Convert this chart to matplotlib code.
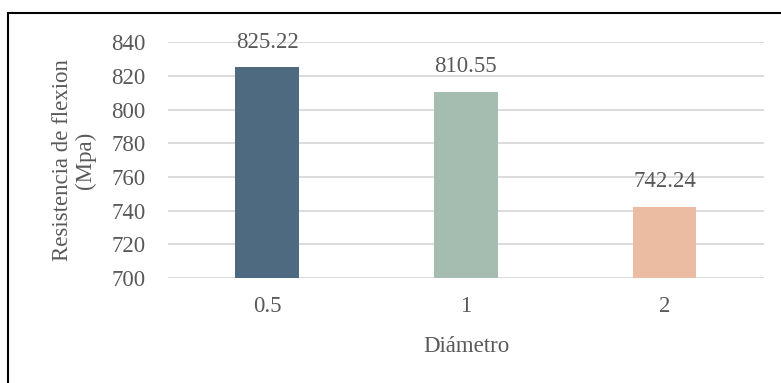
import numpy as np
import matplotlib.pyplot as plt
from matplotlib.patches import Rectangle

diametro = ['0.5', '1', '2']
resistencia = [825.22, 810.55, 742.24]
colores = ['#4e6a80', '#a5bcb1', '#ecbca2']

plt.rcParams['font.family'] = ['Liberation Serif', 'DejaVu Serif']
gris = '#595959'
fs = 16.5

fig = plt.figure(figsize=(7.81, 3.83), dpi=100)
ax = fig.add_axes([0.215, 0.274, 0.763, 0.616])

x = np.arange(len(diametro))
ax.bar(x, resistencia, width=0.32, color=colores, zorder=3)
for xi, v in zip(x, resistencia):
    ax.annotate(f'{v:.2f}', (xi, v), xytext=(0, 18), textcoords='offset points',
                ha='center', va='center', fontsize=fs, color=gris)

ax.set_ylim(700, 840)
ax.set_xlim(-0.5, 2.5)
ax.set_yticks(range(700, 841, 20))
ax.set_xticks(x)
ax.set_xticklabels(diametro)
ax.yaxis.grid(True, color='#d9d9d9', linewidth=1.3, zorder=0)
ax.tick_params(axis='both', length=0, labelsize=fs, colors=gris)
ax.tick_params(axis='y', pad=16)
ax.tick_params(axis='x', pad=13)
for s in ax.spines.values():
    s.set_visible(False)

fig.text(466 / 781, 1 - 347 / 383, 'Diámetro', ha='center', va='center', fontsize=fs, color=gris)
fig.text(74 / 781, 1 - 160 / 383, 'Resistencia de flexion\n(Mpa)', ha='center', va='center',
         rotation=90, fontsize=fs, color=gris, linespacing=1.15, multialignment='center')

# marco del grafico
fig.patches.append(Rectangle((8 / 781, -0.1), 1.2, 1 - 13 / 383 + 0.1, transform=fig.transFigure,
                             fill=False, edgecolor='black', linewidth=1.5))

fig.savefig('out.png', dpi=100)
